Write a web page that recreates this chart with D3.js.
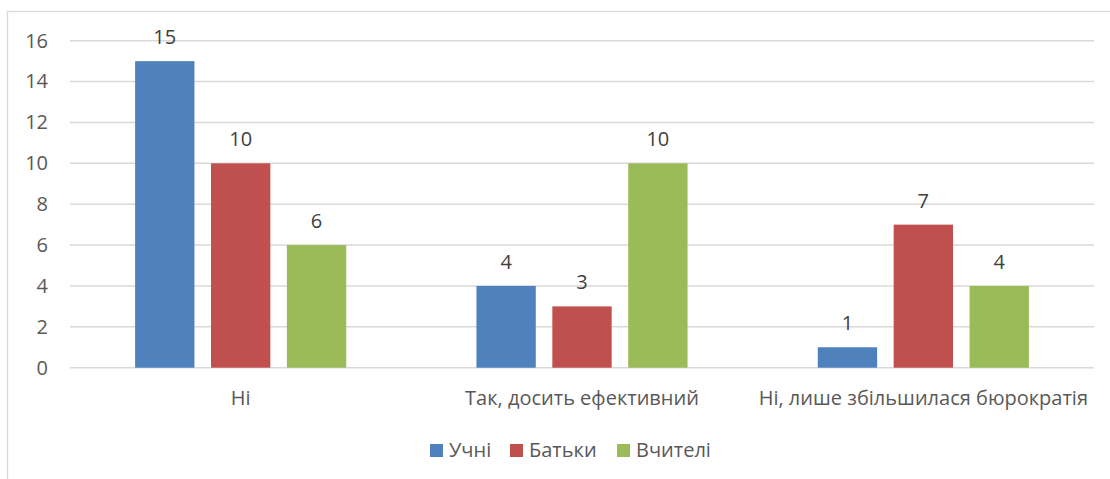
<!DOCTYPE html>
<html lang="uk">
  <head>
    <meta charset="utf-8">
    <title>Chart</title>
    <script src="https://cdn.jsdelivr.net/npm/d3@7/dist/d3.min.js"></script>
    <style>
      body { margin: 0; background: #fff; }
      text { font-family: "Open Sans", "Noto Sans", sans-serif; fill: #595959; }
    </style>
  </head>
  <body>
    <script>
      // data
      const categories = ["Ні", "Так, досить ефективний", "Ні, лише збільшилася бюрократія"];
      const seriesNames = ["Учні", "Батьки", "Вчителі"];
      const pupils = [15, 4, 1];
      const parents = [10, 3, 7];
      const teachers = [6, 10, 4];
      const yTicks = [0, 2, 4, 6, 8, 10, 12, 14, 16];
      const colors = ["#4F81BD", "#C0504D", "#9BBB59"];

      const series = [pupils, parents, teachers];

      const W = 1110, H = 479;
      const PLOT_LEFT = 70, PLOT_RIGHT = 1094;
      const PLOT_TOP = 40.7, PLOT_BOTTOM = 367.7;
      const FONT = "20px";

      let svg = d3.select("body").append("svg")
        .attr("width", W)
        .attr("height", H);

      // chart frame
      svg.append("rect")
        .attr("x", 7.5).attr("y", 11.5)
        .attr("width", 1120).attr("height", 500)
        .attr("fill", "none")
        .attr("stroke", "#D9D9D9")
        .attr("stroke-width", 1.3);

      let y = d3.scaleLinear().domain([0, 16]).range([PLOT_BOTTOM, PLOT_TOP]);
      let x0 = d3.scaleBand().domain(categories).range([PLOT_LEFT, PLOT_RIGHT]);
      let x1 = d3.scaleBand().domain(seriesNames).range([0, x0.bandwidth()])
        .paddingInner(0.218).paddingOuter(0.858);

      // gridlines
      svg.append("g").selectAll("line")
        .data(yTicks)
        .join("line")
        .attr("x1", PLOT_LEFT).attr("x2", PLOT_RIGHT)
        .attr("y1", d => y(d)).attr("y2", d => y(d))
        .attr("stroke", "#D9D9D9")
        .attr("stroke-width", 1.5);

      // y axis labels
      let yAxis = d3.axisLeft(y).tickValues(yTicks).tickSize(0).tickPadding(0);
      let gy = svg.append("g")
        .attr("transform", "translate(48,0)")
        .call(yAxis);
      gy.select(".domain").remove();
      gy.selectAll("text")
        .style("font-size", FONT)
        .attr("font-family", null)
        .attr("fill", "#595959");

      // bars
      let groups = svg.append("g").selectAll("g")
        .data(seriesNames)
        .join("g")
        .attr("fill", (d, i) => colors[i]);

      groups.selectAll("rect")
        .data((s, i) => categories.map((c, j) => ({ c: c, s: s, v: series[i][j] })))
        .join("rect")
        .attr("x", d => x0(d.c) + x1(d.s))
        .attr("y", d => y(d.v))
        .attr("width", x1.bandwidth())
        .attr("height", d => y(0) - y(d.v));

      // value labels
      groups.selectAll("text")
        .data((s, i) => categories.map((c, j) => ({ c: c, s: s, v: series[i][j] })))
        .join("text")
        .attr("x", d => x0(d.c) + x1(d.s) + x1.bandwidth() / 2)
        .attr("y", d => y(d.v) - 17)
        .attr("text-anchor", "middle")
        .style("font-size", FONT)
        .style("fill", "#404040")
        .text(d => d.v);

      // x axis labels
      svg.append("g").selectAll("text")
        .data(categories)
        .join("text")
        .attr("x", d => x0(d) + x0.bandwidth() / 2)
        .attr("y", 405)
        .attr("text-anchor", "middle")
        .style("font-size", FONT)
        .text(d => d);

      // legend
      const LEGEND_X = [430, 510, 617];
      let legend = svg.append("g").selectAll("g")
        .data(seriesNames)
        .join("g")
        .attr("transform", (d, i) => "translate(" + LEGEND_X[i] + ",444)");
      legend.append("rect")
        .attr("width", 13).attr("height", 13)
        .attr("fill", (d, i) => colors[i]);
      legend.append("text")
        .attr("x", 19).attr("y", 13)
        .style("font-size", FONT)
        .text(d => d);
    </script>
  </body>
</html>
